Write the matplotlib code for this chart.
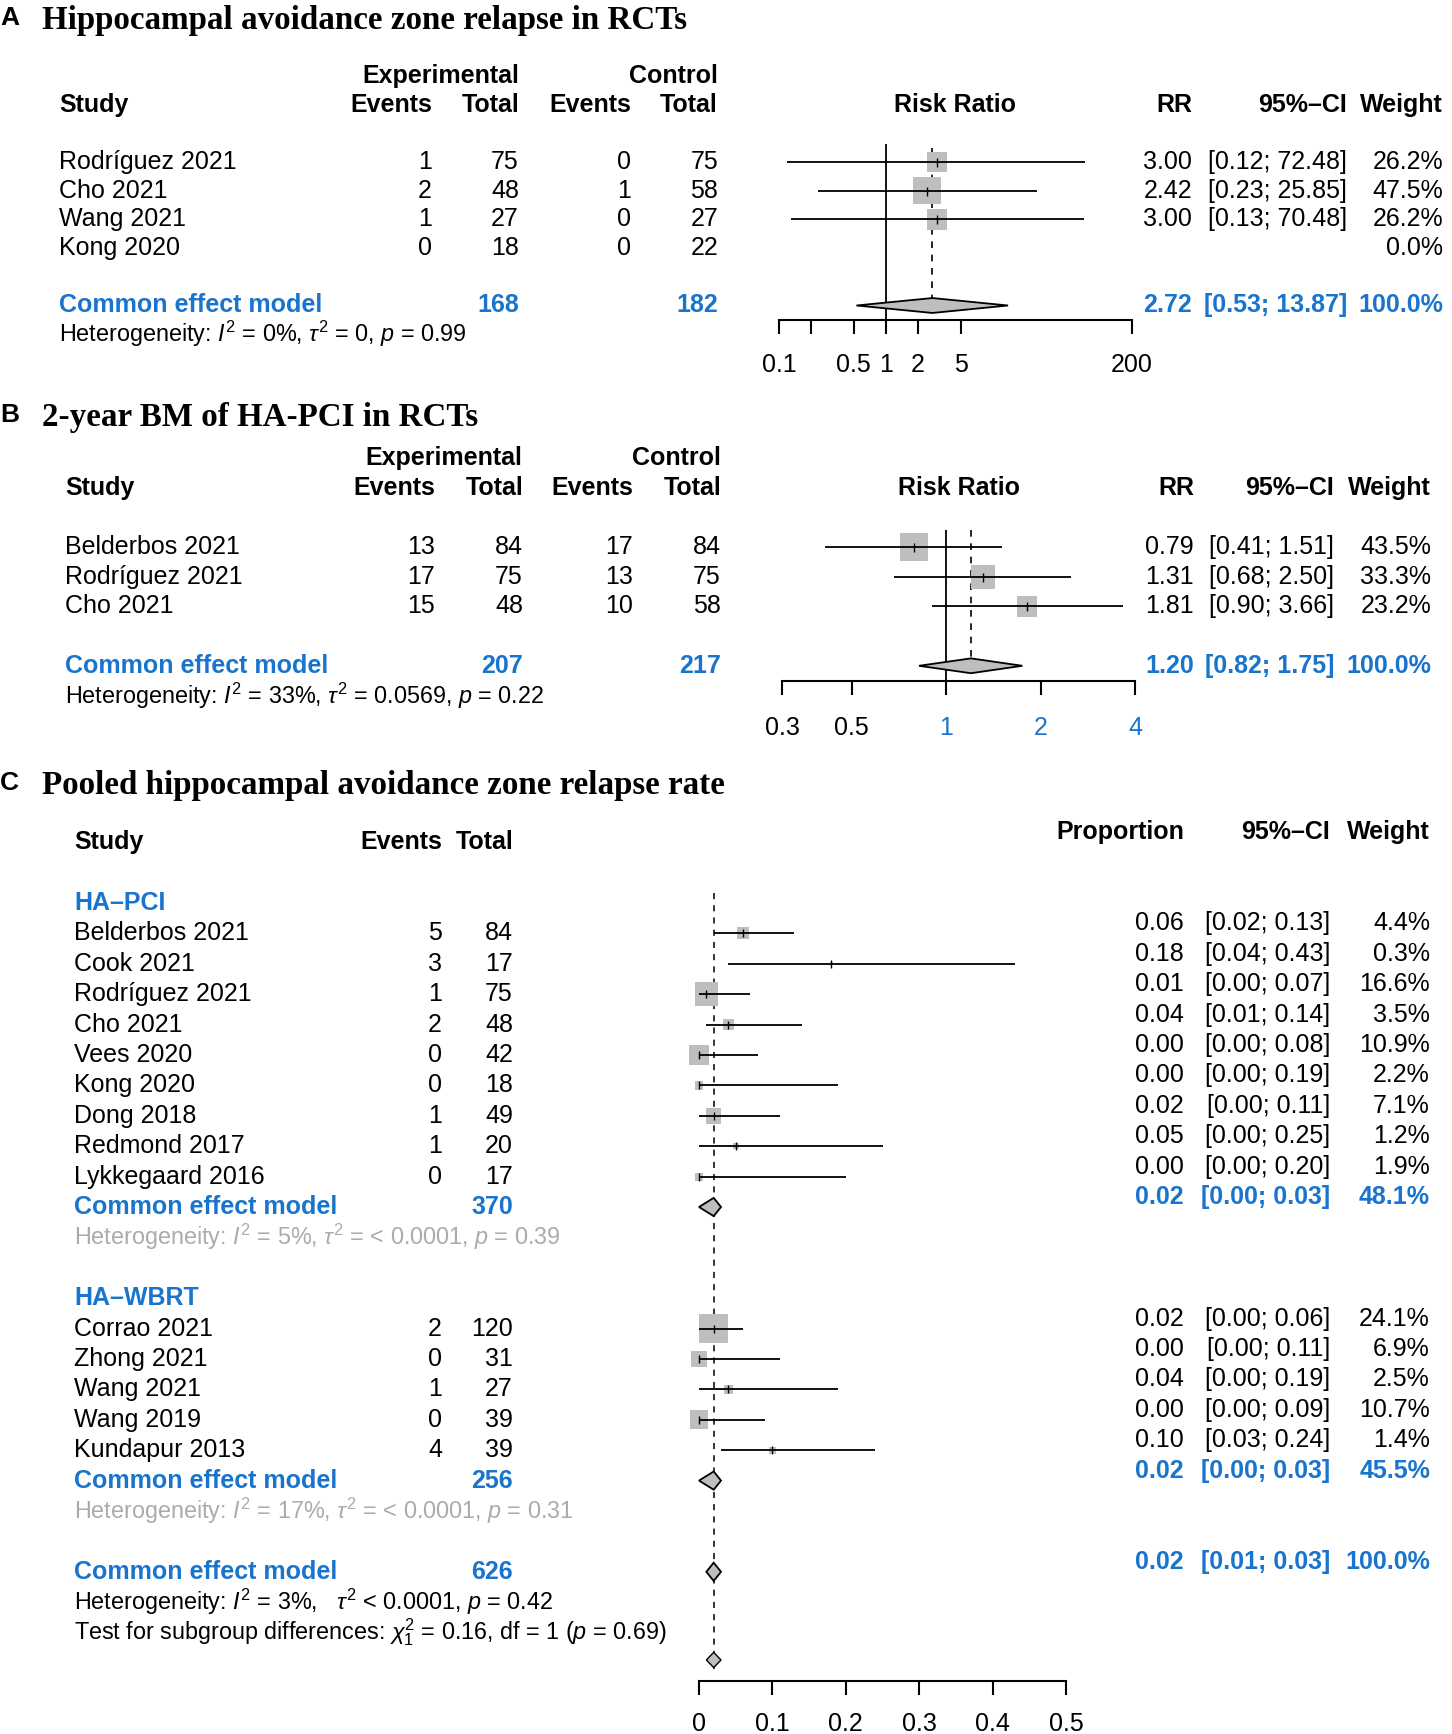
import matplotlib
matplotlib.use('Agg')
import matplotlib.pyplot as plt
import matplotlib.transforms as mtransforms
import matplotlib.ticker as mticker
import numpy as np

plt.rcParams['font.family'] = ['Liberation Sans', 'DejaVu Sans']
plt.rcParams['mathtext.fontset'] = 'custom'
plt.rcParams['mathtext.rm'] = 'Liberation Sans'
plt.rcParams['mathtext.it'] = 'Liberation Sans:italic'
plt.rcParams['mathtext.bf'] = 'Liberation Sans:bold'

# ---------------- data ----------------
# Panel A
a_studies = ['Rodríguez 2021', 'Cho 2021', 'Wang 2021', 'Kong 2020']
a_exp_events = [1, 2, 1, 0]
a_exp_total = [75, 48, 27, 18]
a_ctl_events = [0, 1, 0, 0]
a_ctl_total = [75, 58, 27, 22]
a_rr = [3.00, 2.42, 3.00, np.nan]
a_lo = [0.12, 0.23, 0.13, np.nan]
a_hi = [72.48, 25.85, 70.48, np.nan]
a_weight = [26.2, 47.5, 26.2, 0.0]
a_common = [2.72, 0.53, 13.87]
a_totals = [168, 182]
a_het = r"Heterogeneity: $I^2$ = 0%, $\tau^2$ = 0, $p$ = 0.99"
a_ticks = [0.1, 0.2, 0.5, 1, 2, 5, 200]
a_ticklabels = ['0.1', '', '0.5', '1', '2', '5', '200']

# Panel B
b_studies = ['Belderbos 2021', 'Rodríguez 2021', 'Cho 2021']
b_exp_events = [13, 17, 15]
b_exp_total = [84, 75, 48]
b_ctl_events = [17, 13, 10]
b_ctl_total = [84, 75, 58]
b_rr = [0.79, 1.31, 1.81]
b_lo = [0.41, 0.68, 0.90]
b_hi = [1.51, 2.50, 3.66]
b_weight = [43.5, 33.3, 23.2]
b_common = [1.20, 0.82, 1.75]
b_totals = [207, 217]
b_het = r"Heterogeneity: $I^2$ = 33%, $\tau^2$ = 0.0569, $p$ = 0.22"
b_ticks = [0.3, 0.5, 1, 2, 4]
b_ticklabels = ['0.3', '0.5', '1', '2', '4']

# Panel C
c_g1_name = 'HA–PCI'
c_g1_studies = ['Belderbos 2021', 'Cook 2021', 'Rodríguez 2021', 'Cho 2021', 'Vees 2020',
                'Kong 2020', 'Dong 2018', 'Redmond 2017', 'Lykkegaard 2016']
c_g1_events = [5, 3, 1, 2, 0, 0, 1, 1, 0]
c_g1_total = [84, 17, 75, 48, 42, 18, 49, 20, 17]
c_g1_prop = [0.06, 0.18, 0.01, 0.04, 0.00, 0.00, 0.02, 0.05, 0.00]
c_g1_lo = [0.02, 0.04, 0.00, 0.01, 0.00, 0.00, 0.00, 0.00, 0.00]
c_g1_hi = [0.13, 0.43, 0.07, 0.14, 0.08, 0.19, 0.11, 0.25, 0.20]
c_g1_w = [4.4, 0.3, 16.6, 3.5, 10.9, 2.2, 7.1, 1.2, 1.9]
c_g1_common = [0.02, 0.00, 0.03]
c_g1_cw = 48.1
c_g1_n = 370
c_g1_het = r"Heterogeneity: $I^2$ = 5%, $\tau^2$ = < 0.0001, $p$ = 0.39"

c_g2_name = 'HA–WBRT'
c_g2_studies = ['Corrao 2021', 'Zhong 2021', 'Wang 2021', 'Wang 2019', 'Kundapur 2013']
c_g2_events = [2, 0, 1, 0, 4]
c_g2_total = [120, 31, 27, 39, 39]
c_g2_prop = [0.02, 0.00, 0.04, 0.00, 0.10]
c_g2_lo = [0.00, 0.00, 0.00, 0.00, 0.03]
c_g2_hi = [0.06, 0.11, 0.19, 0.09, 0.24]
c_g2_w = [24.1, 6.9, 2.5, 10.7, 1.4]
c_g2_common = [0.02, 0.00, 0.03]
c_g2_cw = 45.5
c_g2_n = 256
c_g2_het = r"Heterogeneity: $I^2$ = 17%, $\tau^2$ = < 0.0001, $p$ = 0.31"

c_all_common = [0.02, 0.01, 0.03]
c_all_n = 626
c_all_het = r"Heterogeneity: $I^2$ = 3%,   $\tau^2$ < 0.0001, $p$ = 0.42"
c_test = r"Test for subgroup differences: $\chi^2_1$ = 0.16, df = 1 ($p$ = 0.69)"
c_ticks = [0, 0.1, 0.2, 0.3, 0.4, 0.5]
c_ticklabels = ['0', '0.1', '0.2', '0.3', '0.4', '0.5']

# ---------------- style ----------------
W, H = 1452, 1734
BLUE = '#1874CD'
SQ = '#BEBEBE'
HETGREY = '#ABABAB'
FS = 18
FS_HET = 16.8

fig = plt.figure(figsize=(W / 100, H / 100), dpi=100)


def add_forest_axes(x0, x1, y_origin, dy, r_top, r_bot, xscale, xlim, pad):
    top = y_origin + dy * r_top
    bot = y_origin + dy * r_bot
    ax = fig.add_axes([x0 / W, 1 - bot / H, (x1 - x0) / W, (bot - top) / H])
    ax.set_xscale(xscale)
    ax.set_xlim(*xlim)
    ax.set_ylim(r_bot, r_top)
    ax.patch.set_alpha(0)
    for s in ['top', 'left', 'right']:
        ax.spines[s].set_visible(False)
    ax.spines['bottom'].set_linewidth(1.5)
    ax.tick_params(axis='x', direction='out', length=10, width=1.5, pad=pad, labelsize=FS)
    ax.tick_params(axis='y', left=False, labelleft=False)
    ax.xaxis.set_minor_locator(mticker.NullLocator())
    return ax


def txt(ax, xpx, r, s, ha='right', **kw):
    tr = mtransforms.blended_transform_factory(fig.transFigure, ax.transData)
    kw.setdefault('fontsize', FS)
    ax.text(xpx / W, r, s, transform=tr, ha=ha, va='center', clip_on=False, **kw)


def draw_studies(ax, rows, est, lo, hi, w, k, tick=9):
    rows = np.asarray(rows, float)
    est = np.asarray(est, float)
    lo = np.asarray(lo, float)
    hi = np.asarray(hi, float)
    w = np.asarray(w, float)
    m = ~np.isnan(est)
    sizes = (k * np.sqrt(w[m]) * 0.72) ** 2
    ax.scatter(est[m], rows[m], s=sizes, marker='s', color=SQ, edgecolors='none',
               zorder=2, clip_on=False)
    ax.hlines(rows[m], lo[m], hi[m], color='black', lw=1.3, zorder=3, clip_on=False)
    ax.scatter(est[m], rows[m], s=(tick * 0.72) ** 2, marker='|', color='black',
               linewidths=1.0, zorder=4, clip_on=False)


def draw_diamond(ax, r, est, lo, hi, h, lw=1.3):
    ax.fill([lo, est, hi, est], [r, r - h, r, r + h], facecolor=SQ, edgecolor='black',
            lw=lw, zorder=3, clip_on=False)


def title(letter, text, base):
    fig.text(0 / W, 1 - (base - 4) / H, letter, fontsize=19, fontweight='bold', ha='left', va='baseline')
    fig.text(42 / W, 1 - base / H, text, fontsize=23.8, fontweight='bold', ha='left',
             va='baseline', family=['Liberation Serif', 'DejaVu Serif'])


bold = dict(fontweight='bold')
cb = dict(fontweight='bold', color=BLUE)

# ================= Panel A =================
title('A', 'Hippocampal avoidance zone relapse in RCTs', 29)
axA = add_forest_axes(779, 1132, 162, 28.7, -0.63, 5.5, 'log', (0.1, 200), 14)
axA.set_xticks(a_ticks)
axA.set_xticklabels(a_ticklabels)
axA.axvline(1, color='black', lw=1.3, zorder=1)
axA.vlines(a_common[0], -0.5, 5 - 0.26, color='black', lw=1.2, linestyles=(0, (4, 4)), zorder=1)
rowsA = list(range(len(a_studies)))
draw_studies(axA, rowsA, a_rr, a_lo, a_hi, a_weight, 4.0)
draw_diamond(axA, 5, a_common[0], a_common[1], a_common[2], 0.26)

txt(axA, 519, -3, 'Experimental', **bold)
txt(axA, 718, -3, 'Control', **bold)
txt(axA, 59, -2, 'Study', ha='left', **bold)
txt(axA, 432, -2, 'Events', **bold)
txt(axA, 519, -2, 'Total', **bold)
txt(axA, 631, -2, 'Events', **bold)
txt(axA, 718, -2, 'Total', **bold)
axA.text(0.5, -2, 'Risk Ratio', transform=mtransforms.blended_transform_factory(axA.transAxes, axA.transData),
         ha='center', va='center', fontsize=FS, fontweight='bold')
txt(axA, 1192, -2, 'RR', **bold)
txt(axA, 1347, -2, '95%–CI', **bold)
txt(axA, 1443, -2, 'Weight', **bold)
for i, s in enumerate(a_studies):
    txt(axA, 59, i, s, ha='left')
    txt(axA, 432, i, str(a_exp_events[i]))
    txt(axA, 519, i, str(a_exp_total[i]))
    txt(axA, 631, i, str(a_ctl_events[i]))
    txt(axA, 718, i, str(a_ctl_total[i]))
    if not np.isnan(a_rr[i]):
        txt(axA, 1192, i, f'{a_rr[i]:.2f}')
        txt(axA, 1347, i, f'[{a_lo[i]:.2f}; {a_hi[i]:.2f}]')
    txt(axA, 1443, i, f'{a_weight[i]:.1f}%')
txt(axA, 59, 5, 'Common effect model', ha='left', **cb)
txt(axA, 519, 5, str(a_totals[0]), **cb)
txt(axA, 718, 5, str(a_totals[1]), **cb)
txt(axA, 1192, 5, f'{a_common[0]:.2f}', **cb)
txt(axA, 1347, 5, f'[{a_common[1]:.2f}; {a_common[2]:.2f}]', **cb)
txt(axA, 1443, 5, '100.0%', **cb)
txt(axA, 59, 6, a_het, ha='left', fontsize=FS_HET)

# ================= Panel B =================
title('B', '2-year BM of HA-PCI in RCTs', 426)
axB = add_forest_axes(782, 1135, 547, 29.7, -0.57, 4.5, 'log', (0.3, 4), 15.5)
axB.set_xticks(b_ticks)
axB.set_xticklabels(b_ticklabels)
for lab, v in zip(axB.get_xticklabels(), b_ticks):
    if v >= 1:
        lab.set_color(BLUE)
axB.axvline(1, color='black', lw=1.3, zorder=1)
axB.vlines(b_common[0], -0.57, 4 - 0.25, color='black', lw=1.2, linestyles=(0, (4, 4)), zorder=1)
rowsB = list(range(len(b_studies)))
draw_studies(axB, rowsB, b_rr, b_lo, b_hi, b_weight, 4.2)
draw_diamond(axB, 4, b_common[0], b_common[1], b_common[2], 0.25)

txt(axB, 522, -3, 'Experimental', **bold)
txt(axB, 721, -3, 'Control', **bold)
txt(axB, 65, -2, 'Study', ha='left', **bold)
txt(axB, 435, -2, 'Events', **bold)
txt(axB, 523, -2, 'Total', **bold)
txt(axB, 633, -2, 'Events', **bold)
txt(axB, 721, -2, 'Total', **bold)
axB.text(0.5, -2, 'Risk Ratio', transform=mtransforms.blended_transform_factory(axB.transAxes, axB.transData),
         ha='center', va='center', fontsize=FS, fontweight='bold')
txt(axB, 1194, -2, 'RR', **bold)
txt(axB, 1334, -2, '95%–CI', **bold)
txt(axB, 1431, -2, 'Weight', **bold)
for i, s in enumerate(b_studies):
    txt(axB, 65, i, s, ha='left')
    txt(axB, 435, i, str(b_exp_events[i]))
    txt(axB, 523, i, str(b_exp_total[i]))
    txt(axB, 633, i, str(b_ctl_events[i]))
    txt(axB, 721, i, str(b_ctl_total[i]))
    txt(axB, 1194, i, f'{b_rr[i]:.2f}')
    txt(axB, 1334, i, f'[{b_lo[i]:.2f}; {b_hi[i]:.2f}]')
    txt(axB, 1431, i, f'{b_weight[i]:.1f}%')
txt(axB, 65, 4, 'Common effect model', ha='left', **cb)
txt(axB, 523, 4, str(b_totals[0]), **cb)
txt(axB, 721, 4, str(b_totals[1]), **cb)
txt(axB, 1194, 4, f'{b_common[0]:.2f}', **cb)
txt(axB, 1334, 4, f'[{b_common[1]:.2f}; {b_common[2]:.2f}]', **cb)
txt(axB, 1431, 4, '100.0%', **cb)
txt(axB, 65, 5, b_het, ha='left', fontsize=FS_HET)

# ================= Panel C =================
title('C', 'Pooled hippocampal avoidance zone relapse rate', 794)
axC = add_forest_axes(699, 1066, 903, 30.4, -0.33, 25.6, 'linear', (0, 0.5), 12.5)
axC.set_xticks(c_ticks)
axC.set_xticklabels(c_ticklabels)
axC.vlines(c_all_common[0], -0.33, 25.3, color='black', lw=1.1, linestyles=(0, (4, 4)), zorder=1)

OFF = -0.33  # right-hand columns sit slightly higher
XS, XE, XT = 74, 442, 513
XP, XCI, XW = 1184, 1330, 1430

txt(axC, XS, -2, 'Study', ha='left', **bold)
txt(axC, XE, -2, 'Events', **bold)
txt(axC, XT, -2, 'Total', **bold)
txt(axC, XP, -2 + OFF, 'Proportion', **bold)
txt(axC, XCI, -2 + OFF, '95%–CI', **bold)
txt(axC, XW, -2 + OFF, 'Weight', **bold)


def subgroup(start, name, studies, ev, tot, prop, lo, hi, w, common, cw, n, het):
    txt(axC, XS, start, name, ha='left', **cb)
    rows = [start + 1 + i for i in range(len(studies))]
    draw_studies(axC, rows, prop, lo, hi, w, 5.8, tick=8)
    for r, s, e, t, p, l, h, wi in zip(rows, studies, ev, tot, prop, lo, hi, w):
        txt(axC, XS, r, s, ha='left')
        txt(axC, XE, r, str(e))
        txt(axC, XT, r, str(t))
        txt(axC, XP, r + OFF, f'{p:.2f}')
        txt(axC, XCI, r + OFF, f'[{l:.2f}; {h:.2f}]')
        txt(axC, XW, r + OFF, f'{wi:.1f}%')
    rc = rows[-1] + 1
    draw_diamond(axC, rc, common[0], common[1], common[2], 0.3)
    txt(axC, XS, rc, 'Common effect model', ha='left', **cb)
    txt(axC, XT, rc, str(n), **cb)
    txt(axC, XP, rc + OFF, f'{common[0]:.2f}', **cb)
    txt(axC, XCI, rc + OFF, f'[{common[1]:.2f}; {common[2]:.2f}]', **cb)
    txt(axC, XW, rc + OFF, f'{cw:.1f}%', **cb)
    txt(axC, XS, rc + 1, het, ha='left', color=HETGREY, fontsize=FS_HET)


subgroup(0, c_g1_name, c_g1_studies, c_g1_events, c_g1_total, c_g1_prop, c_g1_lo,
         c_g1_hi, c_g1_w, c_g1_common, c_g1_cw, c_g1_n, c_g1_het)
subgroup(13, c_g2_name, c_g2_studies, c_g2_events, c_g2_total, c_g2_prop, c_g2_lo,
         c_g2_hi, c_g2_w, c_g2_common, c_g2_cw, c_g2_n, c_g2_het)

draw_diamond(axC, 22, c_all_common[0], c_all_common[1], c_all_common[2], 0.3)
txt(axC, XS, 22, 'Common effect model', ha='left', **cb)
txt(axC, XT, 22, str(c_all_n), **cb)
txt(axC, XP, 22 + OFF, f'{c_all_common[0]:.2f}', **cb)
txt(axC, XCI, 22 + OFF, f'[{c_all_common[1]:.2f}; {c_all_common[2]:.2f}]', **cb)
txt(axC, XW, 22 + OFF, '100.0%', **cb)
txt(axC, XS, 23, c_all_het, ha='left', fontsize=FS_HET)
txt(axC, XS, 24, c_test, ha='left', fontsize=FS_HET)
draw_diamond(axC, 24.9, c_all_common[0], c_all_common[1], c_all_common[2], 0.25, lw=1.0)

fig.savefig('out.png', dpi=100, facecolor='white')
